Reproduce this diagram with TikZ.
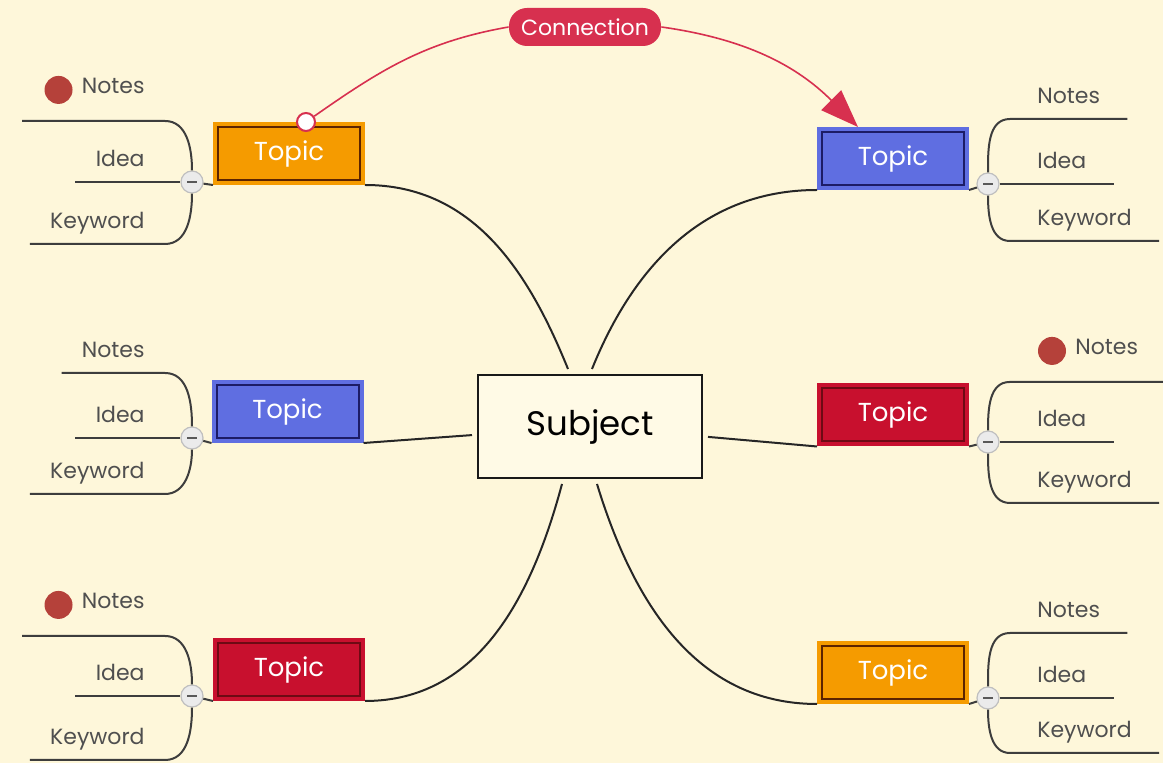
\documentclass[tikz,border=0pt]{standalone}
\usepackage{fontspec}
\setmainfont{Poppins}
\usepackage{tikz}
\usetikzlibrary{arrows.meta}
\definecolor{bg}{HTML}{FEF7DA}
\definecolor{sub}{HTML}{FFFAE6}
\definecolor{og}{HTML}{F59B00}
\definecolor{ogd}{HTML}{5C2400}
\definecolor{bu}{HTML}{5F6EE1}
\definecolor{bud}{HTML}{1C1C66}
\definecolor{rd}{HTML}{C8102E}
\definecolor{rdd}{HTML}{6E0A14}
\definecolor{cn}{HTML}{D7304F}
\definecolor{dt}{HTML}{B5413A}
\definecolor{ln}{HTML}{3D3D3D}
\definecolor{tx}{HTML}{4F4F4F}

\begin{document}
\begin{tikzpicture}[x=50pt,y=50pt]
            \tikzstyle{subject}=[rectangle,draw=black!90,line width=1.4pt,fill=sub,minimum width=112pt,minimum height=51.5pt,outer sep=3pt,font=\fontsize{17}{20}\selectfont]
            \tikzstyle{topic}=[rectangle,minimum width=71pt,minimum height=26.5pt,inner sep=0pt,line width=1pt,outer sep=2.5pt,text=white,font=\fontsize{13}{15}\selectfont]
            \tikzstyle{topicO}=[topic,fill=og,draw=ogd,preaction={draw=og,line width=5pt}]
            \tikzstyle{topicB}=[topic,fill=bu,draw=bud,preaction={draw=bu,line width=5pt}]
            \tikzstyle{topicR}=[topic,fill=rd,draw=rdd,preaction={draw=rd,line width=5pt}]
            \tikzstyle{fold}=[circle,minimum size=11pt,inner sep=0pt,fill=black!8,draw=black!25,line width=0.6pt,
              path picture={\draw[black!65,line width=1.3pt] ([xshift=-2.5pt]path picture bounding box.center) -- ([xshift=2.5pt]path picture bounding box.center);}]
            \tikzstyle{leafL}=[anchor=south east,inner xsep=10pt,inner ysep=7.5pt,text depth=0pt,text=tx,font=\fontsize{11}{13}\selectfont]
            \tikzstyle{leafR}=[leafL,anchor=south west,inner xsep=13.5pt]
            \tikzstyle{noted}=[inner ysep=13.5pt]
            \tikzstyle{dot}=[circle,fill=dt,minimum size=14pt,inner sep=0pt]
            \tikzstyle{hook}=[circle,minimum size=9pt,inner sep=0pt,fill=white,draw=cn,line width=1pt]
            \tikzstyle{tag}=[rectangle,rounded corners=9pt,fill=cn,text=white,minimum width=76pt,minimum height=19pt,inner sep=0pt,font=\fontsize{11}{13}\selectfont]
            \tikzstyle{stem}=[draw=black!85,line width=1pt]
            \tikzstyle{twig}=[draw=ln,line width=1pt]
            \tikzstyle{link}=[draw=cn,line width=0.8pt]
            \useasboundingbox (0,0) rectangle (11.63,-7.63);
            \fill[bg] (0,0) rectangle (11.63,-7.63);
            % subject and topics
            \node[subject] (subj) at (5.90,-4.265) {Subject};
            \node[topicO] (t1) at (2.89,-1.535) {Topic};
            \node[topicB] (t2) at (8.93,-1.585) {Topic};
            \node[topicB] (t3) at (2.875,-4.115) {Topic};
            \node[topicR] (t4) at (8.93,-4.15) {Topic};
            \node[topicR] (t5) at (2.89,-6.695) {Topic};
            \node[topicO] (t6) at (8.93,-6.725) {Topic};
            \node[fold] (c1) at (1.92,-1.82) {};
            \node[fold] (c2) at (9.88,-1.84) {};
            \node[fold] (c3) at (1.92,-4.38) {};
            \node[fold] (c4) at (9.88,-4.42) {};
            \node[fold] (c5) at (1.92,-6.96) {};
            \node[fold] (c6) at (9.88,-6.98) {};
            % left leaves
            \node[leafL,noted] (n1) at (1.65,-1.21) {Notes};
            \node[leafL] (i1) at (1.65,-1.82) {Idea};
            \node[leafL] (k1) at (1.65,-2.44) {Keyword};
            \node[leafL] (n3) at (1.65,-3.73) {Notes};
            \node[leafL] (i3) at (1.65,-4.38) {Idea};
            \node[leafL] (k3) at (1.65,-4.94) {Keyword};
            \node[leafL,noted] (n5) at (1.65,-6.36) {Notes};
            \node[leafL] (i5) at (1.65,-6.96) {Idea};
            \node[leafL] (k5) at (1.65,-7.60) {Keyword};
            % right leaves
            \node[leafR] (n2) at (10.10,-1.19) {Notes};
            \node[leafR] (i2) at (10.10,-1.84) {Idea};
            \node[leafR] (k2) at (10.10,-2.41) {Keyword};
            \node[leafR,noted] (n4) at (10.48,-3.82) {Notes};
            \node[leafR] (i4) at (10.10,-4.42) {Idea};
            \node[leafR] (k4) at (10.10,-5.03) {Keyword};
            \node[leafR] (n6) at (10.10,-6.33) {Notes};
            \node[leafR] (i6) at (10.10,-6.98) {Idea};
            \node[leafR] (k6) at (10.10,-7.53) {Keyword};
            \node[dot] (d1) at ([xshift=-1.5pt,yshift=-2pt]n1.west) {};
            \node[dot] (d5) at ([xshift=-1.5pt,yshift=-2pt]n5.west) {};
            \node[dot] (d4) at ([xshift=2pt,yshift=-2pt]n4.west) {};
            % connection
            \node[hook] (src) at (3.06,-1.22) {};
            \node[tag] (conn) at (5.85,-0.27) {Connection};
            % main branches
            \draw[stem] ([xshift=-11pt]subj.north) to[out=112,in=0] (t1.south east);
            \draw[stem] ([xshift=1pt]subj.north) to[out=68,in=180] (t2.south west);
            \draw[stem] (subj) -- (t3.south east);
            \draw[stem] (subj) -- (t4.south west);
            \draw[stem] ([xshift=-14pt]subj.south) to[out=-105,in=0] (t5.south east);
            \draw[stem] ([xshift=3.5pt]subj.south) to[out=-73,in=180] (t6.south west);
            % left twigs
            \draw[twig] (c1) -- (t1.south west);
            \draw[twig] ([xshift=-11pt]d1.west |- n1.south) -- (n1.south east) to[out=0,in=90] (c1);
            \draw[twig] (i1.south west) -- (c1);
            \draw[twig] (k1.south west) -- (k1.south east) to[out=0,in=-90] (c1);
            \draw[twig] (c3) -- (t3.south west);
            \draw[twig] (n3.south west) -- (n3.south east) to[out=0,in=90] (c3);
            \draw[twig] (i3.south west) -- (c3);
            \draw[twig] (k3.south west) -- (k3.south east) to[out=0,in=-90] (c3);
            \draw[twig] (c5) -- (t5.south west);
            \draw[twig] ([xshift=-11pt]d5.west |- n5.south) -- (n5.south east) to[out=0,in=90] (c5);
            \draw[twig] (i5.south west) -- (c5);
            \draw[twig] (k5.south west) -- (k5.south east) to[out=0,in=-90] (c5);
            % right twigs
            \draw[twig] (t2.south east) -- (c2);
            \draw[twig] (c2) to[out=90,in=180] (n2.south west) -- (n2.south east);
            \draw[twig] (c2) -- (i2.south east);
            \draw[twig] (c2) to[out=-90,in=180] (k2.south west) -- (k2.south east);
            \draw[twig] (t4.south east) -- (c4);
            \draw[twig] (c4) to[out=90,in=180] ([xshift=-14pt]d4.west |- n4.south) -- (n4.south east);
            \draw[twig] (c4) -- (i4.south east);
            \draw[twig] (c4) to[out=-90,in=180] (k4.south west) -- (k4.south east);
            \draw[twig] (t6.south east) -- (c6);
            \draw[twig] (c6) to[out=90,in=180] (n6.south west) -- (n6.south east);
            \draw[twig] (c6) -- (i6.south east);
            \draw[twig] (c6) to[out=-90,in=180] (k6.south west) -- (k6.south east);
            % connection arc
            \draw[link] (src) to[out=35,in=190] (conn.west);
            \draw[link,-{Triangle[length=19pt,width=14pt]}] (conn.east) to[out=-8,in=135] ([xshift=-17.5pt]t2.north);
          \end{tikzpicture}
\end{document}
